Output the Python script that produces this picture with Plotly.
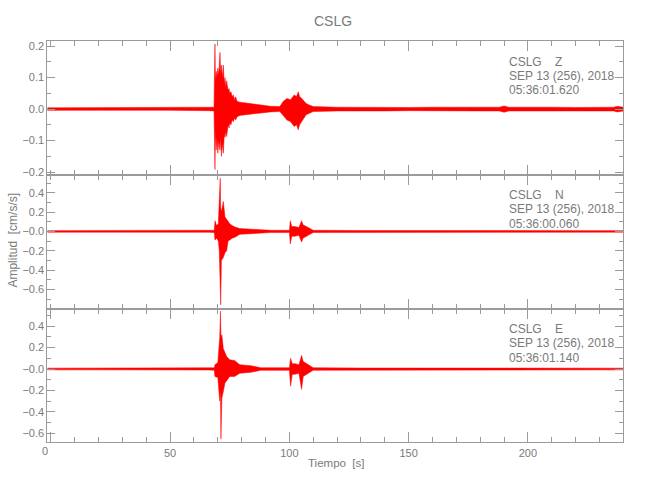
import plotly.graph_objects as go

# ---- data (envelopes) ----
station = "CSLG"
date_label = "SEP 13 (256), 2018"
components = ["Z", "N", "E"]
start_times = ["05:36:01.620", "05:36:00.060", "05:36:01.140"]

t_z = [-1.5, 10, 20, 30, 40, 50, 60, 66, 68.4, 68.6, 68.8, 69.0, 69.3, 69.6, 70.0, 70.4,
       70.7, 70.9, 71.2, 71.5, 71.9, 72.3, 72.7, 73.0, 73.4, 73.7, 74.3, 74.7, 75.0, 75.5,
       76.0, 76.5, 77.0, 77.5, 78.0, 79.2, 81, 83, 85, 88, 92, 96, 97.5, 99, 100.5, 102,
       103, 103.7, 104.3, 105, 106, 107, 108.6, 110, 120, 130, 140, 150, 160, 170, 180,
       188, 190, 192, 200, 210, 220, 230, 236, 237.5, 240]
up_z = [0.004, 0.004, 0.005, 0.004, 0.004, 0.005, 0.004, 0.005, 0.006, 0.12, 0.207, 0.09,
        0.12, 0.10, 0.13, 0.11, 0.17, 0.18, 0.11, 0.14, 0.10, 0.14, 0.08, 0.10, 0.07, 0.09,
        0.06, 0.065, 0.05, 0.055, 0.04, 0.045, 0.03, 0.039, 0.025, 0.022, 0.02, 0.018,
        0.015, 0.012, 0.009, 0.008, 0.025, 0.034, 0.03, 0.045, 0.04, 0.055, 0.04, 0.035,
        0.025, 0.018, 0.012, 0.008, 0.006, 0.005, 0.006, 0.005, 0.006, 0.005, 0.006, 0.006,
        0.010, 0.006, 0.005, 0.006, 0.005, 0.006, 0.006, 0.009, 0.006]
lo_z = [-0.004, -0.004, -0.004, -0.005, -0.004, -0.004, -0.004, -0.005, -0.006, -0.10,
        -0.192, -0.07, -0.13, -0.09, -0.14, -0.10, -0.12, -0.13, -0.09, -0.15, -0.11, -0.14,
        -0.08, -0.09, -0.07, -0.087, -0.05, -0.06, -0.045, -0.05, -0.035, -0.04, -0.028,
        -0.035, -0.025, -0.02, -0.018, -0.017, -0.014, -0.012, -0.009, -0.008, -0.022,
        -0.035, -0.04, -0.055, -0.05, -0.066, -0.05, -0.04, -0.03, -0.018, -0.012, -0.008,
        -0.006, -0.005, -0.006, -0.005, -0.006, -0.005, -0.006, -0.006, -0.010, -0.006,
        -0.005, -0.006, -0.005, -0.006, -0.006, -0.009, -0.006]

t_n = [-1.5, 20, 40, 60, 66, 68.5, 68.8, 69.5, 70.2, 70.6, 71.0, 71.2, 71.5, 72.3, 73.0,
       73.7, 74.3, 75.0, 76.0, 77.2, 79.2, 83, 87.6, 92, 100, 100.4, 101, 102.3, 104,
       105.1, 105.7, 106.5, 108.6, 110, 130, 150, 170, 190, 210, 230, 240]
up_n = [0.008, 0.008, 0.008, 0.008, 0.009, 0.012, 0.11, 0.06, 0.08, 0.30, 0.55, 0.25,
        0.20, 0.31, 0.15, 0.126, 0.10, 0.08, 0.06, 0.045, 0.03, 0.025, 0.02, 0.012, 0.012,
        0.11, 0.05, 0.05, 0.04, 0.11, 0.07, 0.06, 0.03, 0.012, 0.009, 0.008, 0.009, 0.008,
        0.009, 0.008, 0.008]
lo_n = [-0.008, -0.008, -0.008, -0.008, -0.009, -0.012, -0.09, -0.07, -0.10, -0.20, -0.50,
        -0.76, -0.30, -0.27, -0.22, -0.20, -0.10, -0.09, -0.07, -0.06, -0.03, -0.025, -0.02,
        -0.012, -0.012, -0.13, -0.05, -0.05, -0.04, -0.11, -0.07, -0.06, -0.03, -0.012,
        -0.009, -0.008, -0.009, -0.008, -0.009, -0.008, -0.008]

t_e = [-1.5, 20, 40, 60, 66, 68.5, 68.8, 70.0, 70.8, 71.1, 71.3, 71.7, 72.3, 73.0, 73.7,
       75.0, 77.0, 79.2, 84, 88, 100, 100.5, 101.2, 102.3, 104, 105.1, 105.8, 106.5, 108.6,
       110, 130, 150, 170, 190, 210, 230, 240]
up_e = [0.008, 0.008, 0.008, 0.008, 0.009, 0.012, 0.04, 0.06, 0.30, 0.54, 0.30, 0.32,
        0.19, 0.15, 0.117, 0.086, 0.08, 0.04, 0.03, 0.012, 0.012, 0.10, 0.05, 0.05, 0.04,
        0.127, 0.07, 0.06, 0.03, 0.012, 0.009, 0.008, 0.009, 0.008, 0.009, 0.008, 0.008]
lo_e = [-0.008, -0.008, -0.008, -0.008, -0.009, -0.012, -0.07, -0.08, -0.30, -0.20, -0.655,
        -0.27, -0.21, -0.13, -0.11, -0.07, -0.07, -0.04, -0.03, -0.012, -0.012, -0.16, -0.05,
        -0.05, -0.04, -0.19, -0.07, -0.06, -0.03, -0.012, -0.009, -0.008, -0.009, -0.008,
        -0.009, -0.008, -0.008]

x_range = [-1.5, 240]
x_ticks = [0, 50, 100, 150, 200]
x_ticktext = ["", "50", "100", "150", "200"]
y_ranges = [[-0.208, 0.215], [-0.798, 0.588], [-0.686, 0.565]]
y_tickvals = [[-0.2, -0.1, 0.0, 0.1, 0.2],
              [-0.6, -0.4, -0.2, 0.0, 0.2, 0.4],
              [-0.6, -0.4, -0.2, 0.0, 0.2, 0.4]]
y_ticktext = [["\u22120.2", "\u22120.1", "0.0", "0.1", "0.2"],
              ["\u22120.6", "\u22120.4", "\u22120.2", "\u22120.0", "0.2", "0.4"],
              ["\u22120.6", "\u22120.4", "\u22120.2", "\u22120.0", "0.2", "0.4"]]
y_minor = [0.05, 0.1, 0.1]

# ---- figure ----
FONT = "Liberation Sans, Arial, sans-serif"
GREY = "#9a9a9a"
TXT = "#7a7a7a"
RED = "#ff0000"

W, H = 650, 500
xl, xr = 47.3, 623.3
tops = [40.7, 175, 310]
bots = [175, 310, 445]

fig = go.Figure()
series = [(t_z, up_z, lo_z), (t_n, up_n, lo_n), (t_e, up_e, lo_e)]
for i, (t, up, lo) in enumerate(series):
    ax = "" if i == 0 else str(i + 1)
    fig.add_trace(go.Scatter(
        x=list(t) + list(t[::-1]), y=list(up) + list(lo[::-1]),
        fill="toself", fillcolor=RED, mode="lines",
        line=dict(color=RED, width=0.5),
        xaxis="x" + ax, yaxis="y" + ax, showlegend=False, hoverinfo="skip"))

layout = dict(
    width=W, height=H, margin=dict(l=0, r=0, t=0, b=0),
    paper_bgcolor="white", plot_bgcolor="white",
    font=dict(family=FONT, color=TXT, size=12),
    showlegend=False,
)
for i in range(3):
    ax = "" if i == 0 else str(i + 1)
    layout["xaxis" + ax] = dict(
        domain=[xl / W, xr / W], range=x_range, anchor="y" + ax,
        tickmode="array", tickvals=x_ticks, ticktext=x_ticktext,
        showticklabels=(i == 2), ticks="inside", ticklen=10, tickcolor=GREY,
        showline=True, linecolor=GREY, linewidth=1, mirror="allticks",
        showgrid=False, zeroline=False,
        minor=dict(tickmode="linear", dtick=10, tick0=0, ticks="inside", ticklen=5,
                   tickcolor=GREY),
        tickfont=dict(size=11, color=TXT, family=FONT),
    )
    layout["yaxis" + ax] = dict(
        domain=[1 - bots[i] / H, 1 - tops[i] / H], range=y_ranges[i], anchor="x" + ax,
        tickmode="array", tickvals=y_tickvals[i], ticktext=y_ticktext[i],
        ticks="inside", ticklen=8, tickcolor=GREY,
        showline=True, linecolor=GREY, linewidth=1, mirror="allticks",
        showgrid=False, zeroline=False,
        minor=dict(tickmode="linear", dtick=y_minor[i], tick0=0, ticks="inside",
                   ticklen=4, tickcolor=GREY),
        tickfont=dict(size=11, color=TXT, family=FONT),
        ticklabelstandoff=0,
    )
fig.update_layout(**layout)

ann = []
ann.append(dict(text=station, x=333 / W, y=1 - 20 / H, xref="paper", yref="paper",
                showarrow=False, font=dict(size=14, color=TXT, family=FONT),
                xanchor="center", yanchor="middle"))
# the "0" label of the time axis sits slightly left of its tick in the reference
ann.append(dict(text="0", x=45 / W, y=1 - 454 / H, xref="paper", yref="paper",
                showarrow=False, font=dict(size=11, color=TXT, family=FONT),
                xanchor="center", yanchor="middle"))
ann.append(dict(text="Tiempo\u00a0\u00a0[s]", x=336 / W, y=1 - 466 / H, xref="paper",
                yref="paper", showarrow=False, font=dict(size=11.5, color=TXT, family=FONT),
                xanchor="center", yanchor="middle"))
ann.append(dict(text="Amplitud\u00a0\u00a0[cm/s/s]", x=13 / W, y=1 - 241.5 / H,
                xref="paper", yref="paper", showarrow=False, textangle=-90,
                font=dict(size=12, color=TXT, family=FONT),
                xanchor="center", yanchor="middle"))
for i in range(3):
    lines = [station + "\u00a0\u00a0\u00a0\u00a0" + components[i], date_label, start_times[i]]
    for j, s in enumerate(lines):
        yc = tops[i] + 20.5 + j * 14.5
        ann.append(dict(text=s, x=506.5 / W, y=1 - yc / H, xref="paper", yref="paper",
                        showarrow=False, font=dict(size=12, color=TXT, family=FONT),
                        xanchor="left", yanchor="middle"))
fig.update_layout(annotations=ann)

fig.write_html("out.html", config={"displayModeBar": False},
               post_script="document.body.style.margin='0px';")
